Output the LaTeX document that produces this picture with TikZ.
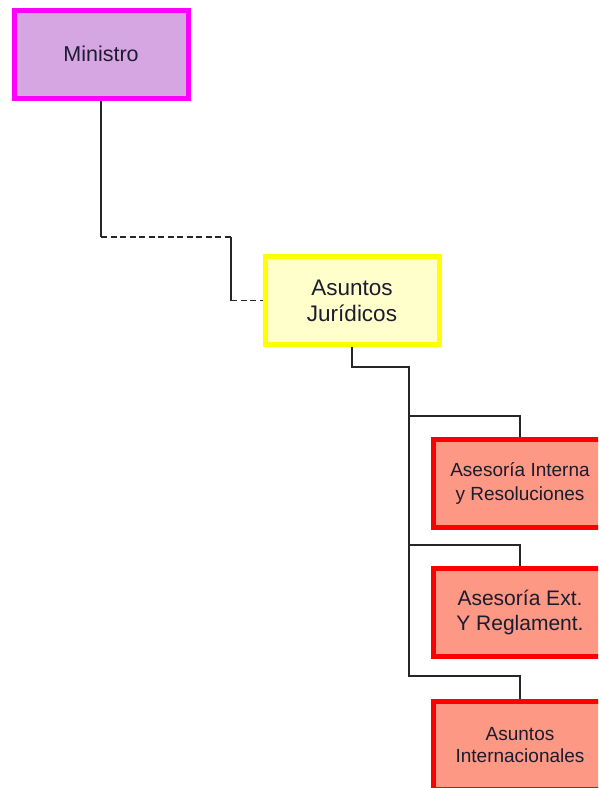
\documentclass[tikz,border=0pt]{standalone}
\usepackage{fontspec}
\setmainfont{Liberation Sans}
\definecolor{minfill}{RGB}{214,166,226}
\definecolor{minline}{RGB}{255,0,255}
\definecolor{jurfill}{RGB}{255,255,204}
\definecolor{jurline}{RGB}{255,255,0}
\definecolor{depfill}{RGB}{252,152,132}
\definecolor{depline}{RGB}{255,0,0}
\definecolor{txt}{RGB}{28,28,48}
\begin{document}
\begin{tikzpicture}[x=1pt,y=-1pt,
  box/.style={draw,rectangle,minimum width=174pt,minimum height=88pt,
    line width=5pt,align=center,text=txt,inner sep=0pt},
  minbox/.style={box,draw=minline,fill=minfill},
  jurbox/.style={box,draw=jurline,fill=jurfill},
  depbox/.style={box,draw=depline,fill=depfill},
  link/.style={line width=1.4pt,draw=black!85},
  dashlink/.style={link,dash pattern=on 6pt off 3.5pt}]
\useasboundingbox (0,0) rectangle (598,788);
\clip (0,0) rectangle (598,788);
%Ministro
\node[minbox,font=\fontsize{21.5}{25}\selectfont] (min) at (101,54) {Ministro};
%Asuntos Juridicos
\node[jurbox,font=\fontsize{22.5}{26}\selectfont] (jur) at (352,300.5) {Asuntos\\Jurídicos};
%Dependencias
\node[depbox,font=\fontsize{19}{24}\selectfont] (ai) at (520,483.5) {Asesoría Interna\\y Resoluciones};
\node[depbox,font=\fontsize{21}{25}\selectfont] (ae) at (520,612) {Asesoría Ext.\\Y Reglament.};
\node[depbox,font=\fontsize{19}{22}\selectfont] (int) at (520,745) {Asuntos\\Internacionales};
%%%%%%%
\coordinate (m1) at (101,237);
\coordinate (m2) at (231,237);
\coordinate (m3) at (231,300.5);
\draw[link] (min.south) -- (m1);
\draw[dashlink] (m1) -- (m2);
\draw[link] (m2) -- (m3);
\draw[dashlink] (m3) -- (jur.west);

\coordinate (j1) at (409,367);
\coordinate (b1) at (409,416);
\coordinate (b2) at (409,545);
\coordinate (b3) at (409,676);
\draw[link] (jur.south) |- (j1) -- (b3) -| (int.north);
\draw[link] (b1) -| (ai.north);
\draw[link] (b2) -| (ae.north);
\end{tikzpicture}
\end{document}
